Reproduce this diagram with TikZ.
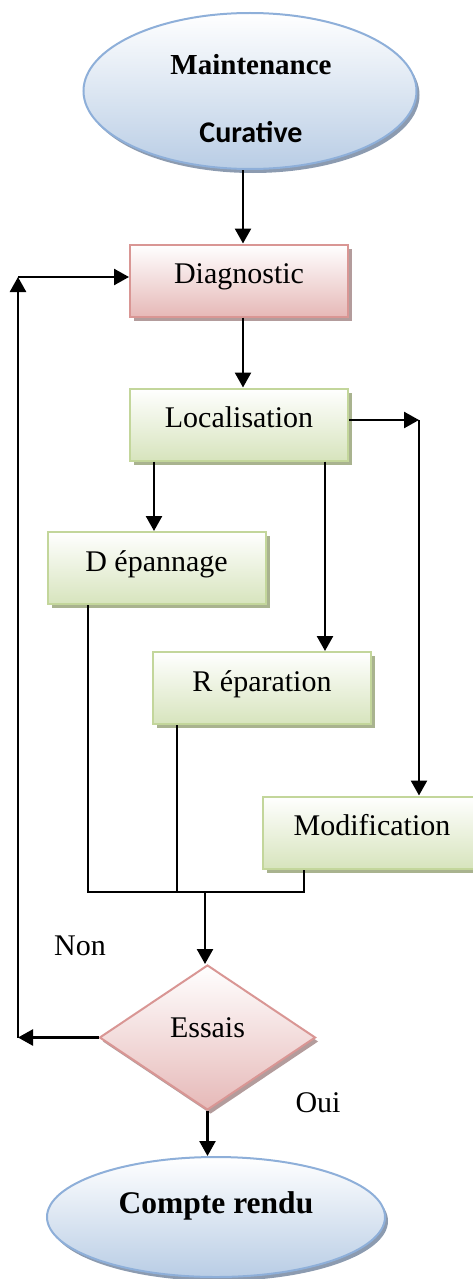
\documentclass[tikz,border=0pt]{standalone}
\usepackage{fontspec}
\setmainfont{Liberation Serif}
\newfontfamily\calibri{Carlito}
\usetikzlibrary{shapes.geometric,arrows.meta,shadows}

\definecolor{blueEdge}{HTML}{8EAFD9}
\definecolor{blueFill}{HTML}{B9CDE5}
\definecolor{blueShade}{HTML}{8C9BB0}
\definecolor{pinkEdge}{HTML}{D99694}
\definecolor{pinkFill}{HTML}{E6B9B8}
\definecolor{pinkShade}{HTML}{B39C9C}
\definecolor{greenEdge}{HTML}{C3D69B}
\definecolor{greenFill}{HTML}{D7E4BD}
\definecolor{greenShade}{HTML}{A9B38F}

\begin{document}
\begin{tikzpicture}[x=1pt,y=-1pt,
  txt/.style={font=\fontsize{30}{34}\selectfont},
  terminal/.style={ellipse, draw=blueEdge, line width=2pt, inner sep=0pt,
    top color=white, bottom color=blueFill,
    general shadow={fill=blueShade, shadow xshift=3pt, shadow yshift=-4pt}},
  pinkbox/.style={rectangle, draw=pinkEdge, line width=2pt, inner sep=0pt,
    minimum width=218pt, minimum height=72pt, text height=20pt, text depth=14pt,
    top color=white, bottom color=pinkFill, txt,
    general shadow={fill=pinkShade, shadow xshift=4pt, shadow yshift=-4pt}},
  greenbox/.style={rectangle, draw=greenEdge, line width=2pt, inner sep=0pt,
    minimum width=218pt, minimum height=72pt, text height=20pt, text depth=14pt,
    top color=white, bottom color=greenFill, txt,
    general shadow={fill=greenShade, shadow xshift=4pt, shadow yshift=-4pt}},
  decision/.style={diamond, draw=pinkEdge, line width=2pt, inner sep=0pt,
    minimum width=216pt, minimum height=145pt, text height=20pt, text depth=21pt,
    top color=white, bottom color=pinkFill, txt,
    general shadow={fill=pinkShade, shadow xshift=3pt, shadow yshift=-4pt}},
  arr/.style={line width=2.5pt, -{Triangle[length=15pt,width=16pt]}},
  thin/.style={line width=1.4pt}
]
\useasboundingbox (0,0) rectangle (473,1279);

% start terminal
\node[terminal, minimum width=333pt, minimum height=156pt] (start) at (250,91) {};
\node[font=\fontsize{29}{32}\selectfont\bfseries] (startA) at (251,65) {Maintenance};
\node[font=\fontsize{30}{32}\selectfont\calibri\bfseries] (startB) at (251,132) {Curative};

% process boxes
\node[pinkbox]  (diag)  at (239,280.5) {Diagnostic};
\node[greenbox] (loc)   at (239,424.5) {Localisation};
\node[greenbox] (dep)   at (156.5,568) {D épannage};
\node[greenbox] (rep)   at (262,688)   {R éparation};
\node[greenbox] (mod)   at (372,832.5) {Modification};

% test and end terminal
\node[decision] (test) at (207.5,1037.5) {Essais};
\node[terminal, minimum width=338pt, minimum height=120pt,
      text height=20pt, text depth=28pt, font=\fontsize{31.5}{34}\selectfont\bfseries]
      (report) at (216,1217) {Compte rendu};

% branch labels
\node[txt] (non) at (80,946) {Non};
\node[txt] (oui) at (318,1103) {Oui};

% routing points
\coordinate (cR) at (419,420);
\coordinate (cL) at (18,1037.5);
\coordinate (cT) at (18,277);
\coordinate (jDep) at (88,892);
\coordinate (jMod) at (304,892);
\coordinate (jMid) at (205,892);

% main flow
\draw[arr] ([xshift=4pt]diag.north |- start.south) -- ([xshift=4pt]diag.north);
\draw[arr] ([xshift=4pt]diag.south) -- ([xshift=4pt]loc.north);
\draw[arr] (loc.east |- cR) -- (cR);
\draw[arr] (cR) -- (cR |- mod.north);
\draw[arr] ([xshift=-85pt]loc.south) -- ([xshift=-85pt]loc.south |- dep.north);
\draw[arr] ([xshift=86pt]loc.south) -- ([xshift=86pt]loc.south |- rep.north);

% gathering lines
\draw[thin] (jDep |- dep.south) -- (jDep) -- (jMod) -- (jMod |- mod.south);
\draw[thin] ([xshift=-85pt]rep.south) -- ([xshift=-85pt]rep.south |- jDep);
\draw[arr] (jMid) -- (jMid |- test.north);

% loop back and exit
\draw[arr] (test.west) -- (cL);
\draw[arr] (cL) -- (cT);
\draw[arr] (cT) -- (diag.west |- cT);
\draw[arr] (test.south) -- (test.south |- report.north);
\end{tikzpicture}
\end{document}
